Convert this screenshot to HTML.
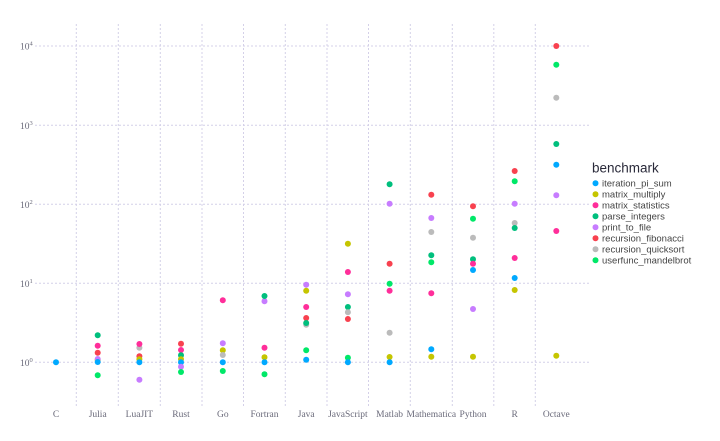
<!DOCTYPE html>
<html><head><meta charset="utf-8"><style>html,body{margin:0;padding:0;background:#fff}svg{display:block}</style></head><body>
<svg width="720" height="441" xmlns="http://www.w3.org/2000/svg">
<g stroke="#d4d0e8" stroke-width="1" stroke-dasharray="2,2">
<line x1="35" x2="590" y1="46" y2="46"/><line x1="35" x2="590" y1="125.3" y2="125.3"/><line x1="35" x2="590" y1="204.3" y2="204.3"/><line x1="35" x2="590" y1="283.3" y2="283.3"/><line x1="35" x2="590" y1="362.3" y2="362.3"/>
<line x1="76.3" x2="76.3" y1="24" y2="407"/><line x1="118.3" x2="118.3" y1="24" y2="407"/><line x1="160.3" x2="160.3" y1="24" y2="407"/><line x1="202" x2="202" y1="24" y2="407"/><line x1="243.5" x2="243.5" y1="24" y2="407"/><line x1="285.3" x2="285.3" y1="24" y2="407"/><line x1="327" x2="327" y1="24" y2="407"/><line x1="368.5" x2="368.5" y1="24" y2="407"/><line x1="410.3" x2="410.3" y1="24" y2="407"/><line x1="452.3" x2="452.3" y1="24" y2="407"/><line x1="493.8" x2="493.8" y1="24" y2="407"/><line x1="535.3" x2="535.3" y1="24" y2="407"/>
</g>
<g font-family="Liberation Serif, serif" font-size="9.5" fill="#6a6a7a">
<text x="20" y="49.5">10<tspan font-size="6.5" dy="-4">4</tspan></text>
<text x="20" y="128.8">10<tspan font-size="6.5" dy="-4">3</tspan></text>
<text x="20" y="207.8">10<tspan font-size="6.5" dy="-4">2</tspan></text>
<text x="20" y="286.8">10<tspan font-size="6.5" dy="-4">1</tspan></text>
<text x="20" y="365.8">10<tspan font-size="6.5" dy="-4">0</tspan></text>
<g text-anchor="middle">
<text x="56" y="417">C</text><text x="97.7" y="417">Julia</text><text x="139.4" y="417">LuaJIT</text><text x="181" y="417">Rust</text><text x="222.8" y="417">Go</text><text x="264.5" y="417">Fortran</text><text x="306.2" y="417">Java</text><text x="347.9" y="417">JavaScript</text><text x="389.6" y="417">Matlab</text><text x="431.3" y="417">Mathematica</text><text x="473" y="417">Python</text><text x="514.7" y="417">R</text><text x="556.3" y="417">Octave</text>
</g></g>
<g>
<!-- C -->
<circle cx="56" cy="362.3" r="3" fill="#00A9FF"/>
<!-- Julia -->
<circle cx="97.7" cy="360" r="3" fill="#C5C500"/><circle cx="97.7" cy="359" r="3" fill="#C77CFF"/><circle cx="97.7" cy="335.3" r="3" fill="#00BF7D"/><circle cx="97.7" cy="345.7" r="3" fill="#FF2E9A"/><circle cx="97.7" cy="352.7" r="3" fill="#F8414F"/><circle cx="97.7" cy="362" r="3" fill="#00A9FF"/><circle cx="97.7" cy="375.3" r="3" fill="#00E868"/>
<!-- LuaJIT -->
<circle cx="139.4" cy="347.7" r="3" fill="#BBBBBB"/><circle cx="139.4" cy="344" r="3" fill="#FF2E9A"/><circle cx="139.4" cy="356.3" r="3" fill="#F8414F"/><circle cx="139.4" cy="359.3" r="3" fill="#C5C500"/><circle cx="139.4" cy="362.3" r="3" fill="#00A9FF"/><circle cx="139.4" cy="379.7" r="3" fill="#C77CFF"/>
<!-- Rust -->
<circle cx="181" cy="343.7" r="3" fill="#F8414F"/><circle cx="181" cy="350" r="3" fill="#FF2E9A"/><circle cx="181" cy="355.3" r="3" fill="#00BF7D"/><circle cx="181" cy="359.3" r="3" fill="#C5C500"/><circle cx="181" cy="362.3" r="3" fill="#00A9FF"/><circle cx="181" cy="366.7" r="3" fill="#C77CFF"/><circle cx="181" cy="372" r="3" fill="#00E868"/>
<!-- Go -->
<circle cx="222.8" cy="300.3" r="3" fill="#FF2E9A"/><circle cx="222.8" cy="343.3" r="3" fill="#C77CFF"/><circle cx="222.8" cy="350.3" r="3" fill="#C5C500"/><circle cx="222.8" cy="355" r="3" fill="#BBBBBB"/><circle cx="222.8" cy="362.3" r="3" fill="#00A9FF"/><circle cx="222.8" cy="371" r="3" fill="#00E868"/>
<!-- Fortran -->
<circle cx="264.5" cy="301.3" r="3" fill="#C77CFF"/><circle cx="264.5" cy="296" r="3" fill="#00BF7D"/><circle cx="264.5" cy="347.7" r="3" fill="#FF2E9A"/><circle cx="264.5" cy="357.3" r="3" fill="#C5C500"/><circle cx="264.5" cy="362.3" r="3" fill="#00A9FF"/><circle cx="264.5" cy="374.3" r="3" fill="#00E868"/>
<!-- Java -->
<circle cx="306.2" cy="284.7" r="3" fill="#C77CFF"/><circle cx="306.2" cy="290.7" r="3" fill="#C5C500"/><circle cx="306.2" cy="307" r="3" fill="#FF2E9A"/><circle cx="306.2" cy="318" r="3" fill="#F8414F"/><circle cx="306.2" cy="324.7" r="3" fill="#BBBBBB"/><circle cx="306.2" cy="323" r="3" fill="#00BF7D"/><circle cx="306.2" cy="350.3" r="3" fill="#00E868"/><circle cx="306.2" cy="359.7" r="3" fill="#00A9FF"/>
<!-- JavaScript -->
<circle cx="347.9" cy="243.7" r="3" fill="#C5C500"/><circle cx="347.9" cy="272" r="3" fill="#FF2E9A"/><circle cx="347.9" cy="294.3" r="3" fill="#C77CFF"/><circle cx="347.9" cy="307" r="3" fill="#00BF7D"/><circle cx="347.9" cy="312.3" r="3" fill="#BBBBBB"/><circle cx="347.9" cy="319" r="3" fill="#F8414F"/><circle cx="347.9" cy="357.7" r="3" fill="#00E868"/><circle cx="347.9" cy="362.3" r="3" fill="#00A9FF"/>
<!-- Matlab -->
<circle cx="389.6" cy="184.3" r="3" fill="#00BF7D"/><circle cx="389.6" cy="203.7" r="3" fill="#C77CFF"/><circle cx="389.6" cy="263.7" r="3" fill="#F8414F"/><circle cx="389.6" cy="283.7" r="3" fill="#00E868"/><circle cx="389.6" cy="290.7" r="3" fill="#FF2E9A"/><circle cx="389.6" cy="332.7" r="3" fill="#BBBBBB"/><circle cx="389.6" cy="357" r="3" fill="#C5C500"/><circle cx="389.6" cy="362.3" r="3" fill="#00A9FF"/>
<!-- Mathematica -->
<circle cx="431.3" cy="194.7" r="3" fill="#F8414F"/><circle cx="431.3" cy="218" r="3" fill="#C77CFF"/><circle cx="431.3" cy="232" r="3" fill="#BBBBBB"/><circle cx="431.3" cy="255.3" r="3" fill="#00BF7D"/><circle cx="431.3" cy="262.3" r="3" fill="#00E868"/><circle cx="431.3" cy="293.3" r="3" fill="#FF2E9A"/><circle cx="431.3" cy="349.3" r="3" fill="#00A9FF"/><circle cx="431.3" cy="356.7" r="3" fill="#C5C500"/>
<!-- Python -->
<circle cx="473" cy="206.3" r="3" fill="#F8414F"/><circle cx="473" cy="218.7" r="3" fill="#00E868"/><circle cx="473" cy="237.7" r="3" fill="#BBBBBB"/><circle cx="473" cy="259.3" r="3" fill="#00BF7D"/><circle cx="473" cy="263.7" r="3" fill="#FF2E9A"/><circle cx="473" cy="270" r="3" fill="#00A9FF"/><circle cx="473" cy="309" r="3" fill="#C77CFF"/><circle cx="473" cy="356.7" r="3" fill="#C5C500"/>
<!-- R -->
<circle cx="514.7" cy="171" r="3" fill="#F8414F"/><circle cx="514.7" cy="181.3" r="3" fill="#00E868"/><circle cx="514.7" cy="203.7" r="3" fill="#C77CFF"/><circle cx="514.7" cy="223" r="3" fill="#BBBBBB"/><circle cx="514.7" cy="228" r="3" fill="#00BF7D"/><circle cx="514.7" cy="258" r="3" fill="#FF2E9A"/><circle cx="514.7" cy="278" r="3" fill="#00A9FF"/><circle cx="514.7" cy="290" r="3" fill="#C5C500"/>
<!-- Octave -->
<circle cx="556.3" cy="46" r="3" fill="#F8414F"/><circle cx="556.3" cy="64.7" r="3" fill="#00E868"/><circle cx="556.3" cy="97.7" r="3" fill="#BBBBBB"/><circle cx="556.3" cy="144" r="3" fill="#00BF7D"/><circle cx="556.3" cy="164.7" r="3" fill="#00A9FF"/><circle cx="556.3" cy="195.3" r="3" fill="#C77CFF"/><circle cx="556.3" cy="231" r="3" fill="#FF2E9A"/><circle cx="556.3" cy="355.7" r="3" fill="#C5C500"/>
</g>
<g font-family="Liberation Sans, sans-serif">
<text x="592" y="172.5" font-size="13.5" fill="#2a2a3a">benchmark</text>
<g font-size="9.5" fill="#444">
<circle cx="595.5" cy="183.3" r="3" fill="#00A9FF"/><text x="602" y="186.7">iteration_pi_sum</text>
<circle cx="595.5" cy="194.3" r="3" fill="#C5C500"/><text x="602" y="197.7">matrix_multiply</text>
<circle cx="595.5" cy="205.3" r="3" fill="#FF2E9A"/><text x="602" y="208.7">matrix_statistics</text>
<circle cx="595.5" cy="216.3" r="3" fill="#00BF7D"/><text x="602" y="219.7">parse_integers</text>
<circle cx="595.5" cy="227.3" r="3" fill="#C77CFF"/><text x="602" y="230.7">print_to_file</text>
<circle cx="595.5" cy="238.3" r="3" fill="#F8414F"/><text x="602" y="241.7">recursion_fibonacci</text>
<circle cx="595.5" cy="249.3" r="3" fill="#BBBBBB"/><text x="602" y="252.7">recursion_quicksort</text>
<circle cx="595.5" cy="260.3" r="3" fill="#00E868"/><text x="602" y="263.7">userfunc_mandelbrot</text>
</g></g>
</svg>
</body></html>
